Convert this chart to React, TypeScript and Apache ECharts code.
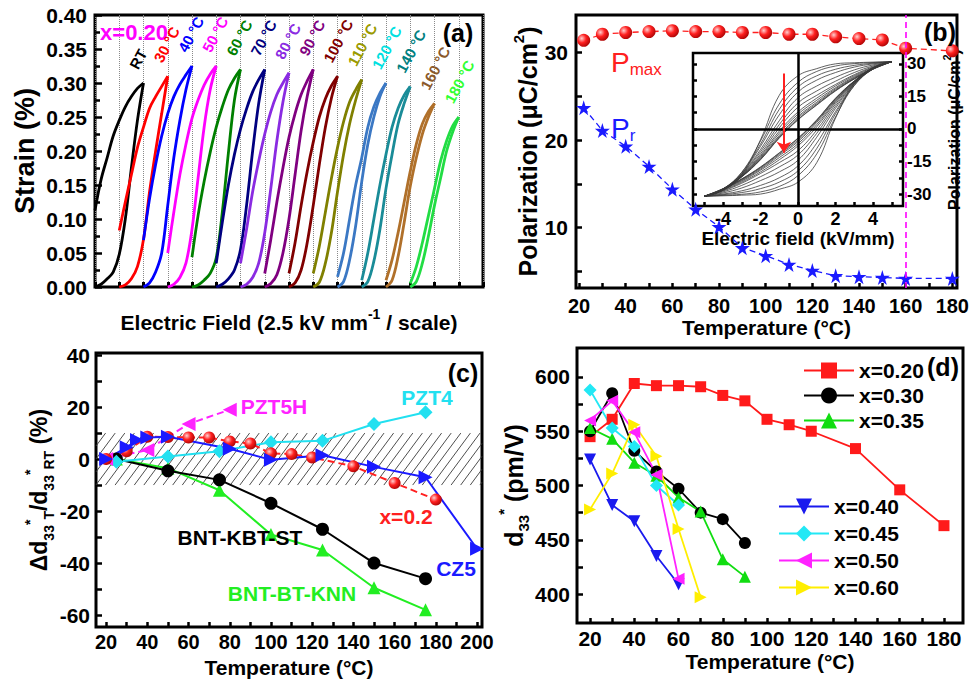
import React, { useEffect, useRef } from "react";
import * as echarts from "echarts";

const FONT = '"Liberation Sans", Arial, Helvetica, sans-serif';

/* ================= (a) strain loops ================= */
const STRAIN_FIELD_STEPS = [0, 0.25, 0.5, 0.75, 1, 1.25, 1.5, 1.75, 2];
const STRAIN_LOOP_LABELS = ["RT", "30 °C", "40 °C", "50 °C", "60 °C", "70 °C", "80 °C", "90 °C", "100 °C", "110 °C", "120 °C", "140 °C", "160 °C", "180 °C"];
// rising branch (field increasing), strain %
const STRAIN_RISE = [
  [0, 0.004, 0.012, 0.022, 0.048, 0.1, 0.175, 0.245, 0.3],
  [0, 0.003, 0.012, 0.03, 0.07, 0.14, 0.2, 0.255, 0.31],
  [0, 0.006, 0.022, 0.05, 0.12, 0.19, 0.245, 0.29, 0.325],
  [0, 0.004, 0.014, 0.035, 0.085, 0.16, 0.235, 0.29, 0.325],
  [0, 0.003, 0.01, 0.02, 0.043, 0.11, 0.197, 0.275, 0.32],
  [0, 0.004, 0.012, 0.025, 0.055, 0.12, 0.2, 0.27, 0.32],
  [0, 0.004, 0.014, 0.035, 0.08, 0.145, 0.215, 0.272, 0.315],
  [0, 0.005, 0.018, 0.05, 0.1, 0.165, 0.23, 0.28, 0.32],
  [0, 0.006, 0.025, 0.065, 0.12, 0.18, 0.235, 0.278, 0.31],
  [0, 0.007, 0.035, 0.08, 0.14, 0.195, 0.24, 0.275, 0.305],
  [0, 0.008, 0.04, 0.09, 0.155, 0.21, 0.25, 0.28, 0.3],
  [0, 0.008, 0.038, 0.085, 0.145, 0.195, 0.24, 0.27, 0.295],
  [0, 0.01, 0.045, 0.095, 0.148, 0.19, 0.225, 0.25, 0.27],
  [0, 0.008, 0.035, 0.075, 0.12, 0.16, 0.2, 0.228, 0.25],
];
// falling branch (field decreasing), listed at the same field steps
const STRAIN_FALL = [
  [0.113, 0.158, 0.19, 0.222, 0.245, 0.265, 0.28, 0.292, 0.3],
  [0.083, 0.125, 0.165, 0.205, 0.235, 0.263, 0.28, 0.295, 0.31],
  [0.069, 0.13, 0.18, 0.222, 0.255, 0.28, 0.298, 0.312, 0.325],
  [0.05, 0.11, 0.165, 0.21, 0.248, 0.275, 0.297, 0.313, 0.325],
  [0.044, 0.105, 0.155, 0.198, 0.235, 0.265, 0.29, 0.307, 0.32],
  [0.035, 0.095, 0.15, 0.195, 0.232, 0.262, 0.287, 0.305, 0.32],
  [0.035, 0.085, 0.14, 0.185, 0.225, 0.258, 0.283, 0.3, 0.315],
  [0.02, 0.07, 0.125, 0.175, 0.22, 0.255, 0.283, 0.303, 0.32],
  [0.02, 0.065, 0.12, 0.17, 0.213, 0.25, 0.277, 0.296, 0.31],
  [0.02, 0.06, 0.11, 0.16, 0.205, 0.243, 0.272, 0.29, 0.305],
  [0.015, 0.05, 0.1, 0.15, 0.19, 0.235, 0.265, 0.285, 0.3],
  [0.01, 0.05, 0.1, 0.15, 0.195, 0.235, 0.263, 0.282, 0.295],
  [0.01, 0.04, 0.08, 0.125, 0.17, 0.21, 0.24, 0.258, 0.27],
  [0.005, 0.03, 0.065, 0.105, 0.145, 0.185, 0.215, 0.237, 0.25],
];
const LOOP_COLORS = ["#000000", "#ff0000", "#0000ff", "#ff00ff", "#008000", "#000080", "#8a2be2", "#800080", "#800000", "#808000", "#3b78c4", "#1a8c98", "#b0702a", "#22dd44"];
const LOOP_LABEL_COLORS = ["#000000", "#ff0000", "#0000ff", "#ff00ff", "#008000", "#000080", "#8a2be2", "#800080", "#800000", "#9a9a00", "#00e0e0", "#008080", "#8b5a2b", "#33ff33"];

/* ================= (b) polarization ================= */
const B_TEMPS = [22, 30, 40, 50, 60, 70, 80, 90, 100, 110, 120, 130, 140, 150, 160, 180];
const P_MAX = [31.4, 32.1, 32.3, 32.4, 32.5, 32.4, 32.4, 32.3, 32.3, 32.1, 32.1, 31.8, 31.6, 31.45, 30.5, 30.2];
const P_R = [23.7, 21.1, 19.3, 17.0, 14.4, 12.1, 10.1, 7.7, 6.8, 5.8, 5.1, 4.5, 4.4, 4.3, 4.2, 4.2];
const B_X_LABELS = [20, 40, 60, 80, 100, 120, 140, 160, 180];
const B_X_TICKS = [20, 30, 40, 50, 60, 70, 80, 90, 100, 110, 120, 130, 140, 150, 160, 170, 180];
const B_Y_LABELS = [10, 20, 30];
const B_Y_TICKS = [5, 10, 15, 20, 25, 30];
const B_MARK_TEMP = 160;

/* ================= inset P-E loops ================= */
const PE_FIELD = [5, 4, 3, 2, 1, 0, -1, -2, -3, -4, -5];
// upper branch (field decreasing from +5 to -5), one per temperature
const PE_UPPER = [
  [31, 30.8, 30.5, 30, 27.8, 24.5, 15.5, -5, -21, -28, -31],
  [31, 30.6, 30.1, 29, 26.5, 21.5, 11.5, -5.5, -20, -27.8, -31],
  [31, 30.3, 29.3, 27.5, 24.5, 19.3, 9, -7, -20, -27.6, -31],
  [31, 30, 28.5, 26, 22.5, 17, 6.5, -8, -20.5, -27.6, -31],
  [31, 29.5, 27.2, 23.8, 19.8, 14.4, 3.8, -9.5, -20.8, -27.7, -31],
  [31, 29, 26, 22, 17.5, 12, 2, -10.5, -21, -27.8, -31],
  [31, 28.6, 25, 20.5, 15.5, 10, 0.5, -11.5, -21.3, -27.9, -31],
  [31, 28.3, 24.5, 19.8, 14.2, 7.8, -1, -12.3, -21.5, -28, -31],
  [31, 28, 24, 19, 13.2, 6.8, -2, -12.8, -21.7, -28, -31],
  [31, 27.8, 23.6, 18.5, 12.3, 5.8, -3, -13.3, -21.8, -28.1, -31],
  [31, 27.7, 23.3, 18, 11.7, 5.1, -3.6, -13.7, -22, -28.1, -31],
  [31, 27.6, 23.1, 17.7, 11.2, 4.4, -4, -14, -22, -28.2, -31],
  [31, 27.5, 23, 17.5, 11, 4.2, -4.2, -14.2, -22.1, -28.2, -31],
];
const INSET_X_LABELS = [-4, -2, 0, 2, 4];
const INSET_X_TICKS = [-5, -4, -3, -2, -1, 0, 1, 2, 3, 4, 5];
const INSET_Y_LABELS = [-30, -15, 0, 15, 30];
const INSET_Y_TICKS = [-30, -22.5, -15, -7.5, 0, 7.5, 15, 22.5, 30];
const ARROW_FROM = [-0.75, 25.5];
const ARROW_TO = [-0.75, -11];

/* ================= (c) relative change ================= */
const C_X02_T = [20, 30, 40, 50, 60, 70, 80, 90, 100, 110, 120, 140, 160, 180];
const C_X02 = [0, 3, 8.6, 8.5, 8.3, 8.3, 6.8, 6, 2.2, 1.9, 0.6, -2.8, -9.2, -15.6];
const C_CZ5_T = [20, 30, 35, 40, 50, 80, 100, 125, 150, 175, 200];
const C_CZ5 = [0, 4.5, 7.3, 8.3, 8.6, 4, -0.3, 1.5, -3, -7, -34.5];
const C_PZT5H_T = [20, 40, 60, 80];
const C_PZT5H = [0, 3.5, 13.5, 19];
const C_PZT4_T = [25, 50, 75, 100, 125, 150, 175];
const C_PZT4 = [-1, 1, 3, 6.5, 7, 13.5, 18];
const C_KBT_T = [25, 50, 75, 100, 125, 150, 175];
const C_KBT = [0, -4.5, -8, -17, -27, -40, -46];
const C_KNN_T = [25, 50, 75, 100, 125, 150, 175];
const C_KNN = [0, -3.5, -12, -29, -35, -49.5, -58];
const C_HATCH_BAND = [-10, 10];
const C_X_LABELS = [20, 40, 60, 80, 100, 120, 140, 160, 180, 200];
const C_X_TICKS = [20, 30, 40, 50, 60, 70, 80, 90, 100, 110, 120, 130, 140, 150, 160, 170, 180, 190, 200];
const C_Y_LABELS = [-60, -40, -20, 0, 20, 40];
const C_Y_TICKS = [-60, -50, -40, -30, -20, -10, 0, 10, 20, 30, 40];

/* ================= (d) d33* ================= */
const D_T_020 = [20, 30, 40, 50, 60, 70, 80, 90, 100, 110, 120, 140, 160, 180];
const D_020 = [545, 561, 594, 592, 592, 591, 583, 578, 561, 556, 550, 534, 496, 463];
const D_T_030 = [20, 30, 40, 50, 60, 70, 80, 90];
const D_030 = [550, 585, 532, 513, 497, 475, 469, 447];
const D_T_035 = [20, 30, 40, 50, 60, 70, 80, 90];
const D_035 = [553, 543, 521, 509, 489, 476, 432, 416];
const D_T_040 = [20, 30, 40, 50, 60];
const D_040 = [524, 482, 467, 435, 409];
const D_T_045 = [20, 30, 40, 50, 60];
const D_045 = [588, 553, 536, 500, 482];
const D_T_050 = [20, 30, 40, 50, 60];
const D_050 = [560, 578, 549, 510, 414];
const D_T_060 = [20, 30, 40, 50, 60, 70];
const D_060 = [478, 511, 556, 527, 460, 397];
const D_X_LABELS = [20, 40, 60, 80, 100, 120, 140, 160, 180];
const D_X_TICKS = [20, 30, 40, 50, 60, 70, 80, 90, 100, 110, 120, 130, 140, 150, 160, 170, 180];
const D_Y_LABELS = [400, 450, 500, 550, 600];
const D_Y_TICKS = [400, 425, 450, 475, 500, 525, 550, 575, 600];

/* ================= helpers ================= */
const pairs = (xs: number[], ys: number[]) => xs.map((x, i) => [x, ys[i]]);
const axText = (size: number) => ({ color: "#000", fontFamily: FONT, fontWeight: "bold" as const, fontSize: size });
const richTitle = (size: number, sub: number) => ({
  m: { fontSize: size, fontWeight: "bold", fontFamily: FONT, color: "#000", lineHeight: size + 10, verticalAlign: "middle" },
  sb: { fontSize: sub, fontWeight: "bold", fontFamily: FONT, color: "#000", lineHeight: sub, verticalAlign: "bottom" },
  sp: { fontSize: sub, fontWeight: "bold", fontFamily: FONT, color: "#000", lineHeight: sub, verticalAlign: "top" },
});
const tick = (vals: number[] | null, len = 5) => ({
  show: true,
  inside: true,
  length: len,
  ...(vals ? { customValues: vals } : {}),
  lineStyle: { color: "#000", width: 2.5 },
});
const NO_LINE = { show: false, onZero: false };
const STAR = "path://M50,0 L61,35 L98,35 L68,57 L79,91 L50,70 L21,91 L32,57 L2,35 L39,35 Z";
const ball = (c0: string, c1: string, c2: string) =>
  new echarts.graphic.RadialGradient(0.35, 0.35, 0.75, [
    { offset: 0, color: c0 },
    { offset: 0.45, color: c1 },
    { offset: 1, color: c2 },
  ]);

function buildOption(): any {
  const grids = [
    { left: 95, top: 15, width: 388, height: 272 },
    { left: 576, top: 15, width: 387, height: 273 },
    { left: 693, top: 53, width: 210, height: 153 },
    { left: 96, top: 353, width: 386, height: 274 },
    { left: 577, top: 348, width: 386, height: 275 },
  ].map((g, i) => ({
    ...g,
    show: true,
    borderColor: "#000",
    borderWidth: i === 2 ? 2.5 : 3,
    backgroundColor: i === 2 ? "#fff" : "transparent",
  }));

  const xAxis: any[] = [
    {
      gridIndex: 0, type: "value", min: 0, max: 16, interval: 1,
      axisLine: NO_LINE, axisLabel: { show: false },
      axisTick: { show: true, inside: true, length: 5, lineStyle: { color: "#000", width: 3 } },
      splitLine: { show: true, lineStyle: { color: "#8a8a8a", type: "dotted", width: 1 } },
      name: "{m|Electric Field (2.5 kV mm}{sp|-1}{m| / scale)}",
      nameLocation: "middle", nameGap: 20,
      nameTextStyle: { rich: richTitle(21, 14) },
    },
    {
      gridIndex: 1, type: "value", min: 18.7, max: 182,
      axisLine: NO_LINE,
      axisLabel: { ...axText(20), customValues: B_X_LABELS, margin: 8 },
      axisTick: tick(B_X_TICKS, 5), splitLine: { show: false },
      name: "Temperature (°C)", nameLocation: "middle", nameGap: 27, nameTextStyle: axText(21),
    },
    {
      gridIndex: 2, type: "value", min: -5.6, max: 5.6,
      axisLine: NO_LINE,
      axisLabel: { ...axText(18), customValues: INSET_X_LABELS, margin: 4 },
      axisTick: tick(INSET_X_TICKS, 4), splitLine: { show: false },
      name: "Electric field (kV/mm)", nameLocation: "middle", nameGap: 21, nameTextStyle: axText(19),
    },
    {
      gridIndex: 3, type: "value", min: 15.1, max: 202.4,
      axisLine: NO_LINE,
      axisLabel: { ...axText(20), customValues: C_X_LABELS, margin: 5 },
      axisTick: tick(C_X_TICKS, 5), splitLine: { show: false },
      name: "Temperature (°C)", nameLocation: "middle", nameGap: 30, nameTextStyle: axText(21),
    },
    {
      gridIndex: 4, type: "value", min: 14.1, max: 188.6,
      axisLine: NO_LINE,
      axisLabel: { ...axText(21), customValues: D_X_LABELS, margin: 5 },
      axisTick: tick(D_X_TICKS, 5), splitLine: { show: false },
      name: "Temperature (°C)", nameLocation: "middle", nameGap: 28, nameTextStyle: axText(21),
    },
  ];

  const yAxis: any[] = [
    {
      gridIndex: 0, type: "value", min: 0, max: 0.4, interval: 0.05,
      axisLine: NO_LINE,
      axisLabel: { ...axText(21), margin: 8, formatter: (v: number) => v.toFixed(2) },
      axisTick: tick(null, 7),
      minorTick: { show: true, splitNumber: 2, length: 5, lineStyle: { color: "#000", width: 2.5 } },
      splitLine: { show: false }, minorSplitLine: { show: false },
      name: "Strain (%)", nameLocation: "middle", nameGap: 57, nameTextStyle: axText(27),
    },
    {
      gridIndex: 1, type: "value", min: 3.1, max: 34.3,
      axisLine: NO_LINE,
      axisLabel: { ...axText(21), customValues: B_Y_LABELS, margin: 8 },
      axisTick: tick(B_Y_TICKS, 6), splitLine: { show: false },
      name: "{m|Polarization (μC/cm}{sp|2}{m|)}", nameLocation: "middle", nameGap: 30,
      nameTextStyle: { rich: richTitle(25, 15) },
    },
    {
      gridIndex: 2, type: "value", position: "right", min: -35.5, max: 35,
      axisLine: NO_LINE,
      axisLabel: { ...axText(17), customValues: INSET_Y_LABELS, margin: 4 },
      axisTick: tick(INSET_Y_TICKS, 4), splitLine: { show: false },
      name: "{m|Polarization (μC/cm}{sp|2}{m|)}", nameLocation: "middle", nameGap: 38, nameRotate: 90,
      nameTextStyle: { rich: richTitle(16, 11) },
    },
    {
      gridIndex: 2, type: "value", position: "left", min: -35.5, max: 35,
      axisLine: NO_LINE, axisLabel: { show: false },
      axisTick: tick(INSET_Y_TICKS, 4), splitLine: { show: false },
    },
    {
      gridIndex: 3, type: "value", min: -64.6, max: 40.8,
      axisLine: NO_LINE,
      axisLabel: { ...axText(21), customValues: C_Y_LABELS, margin: 6 },
      axisTick: tick(C_Y_TICKS, 6), splitLine: { show: false },
      name: "{m|Δd}{sb|33}{sp|*}{sb|T}{m|/d}{sb|33}{sp|*}{sb|RT}{m| (%)}", nameLocation: "middle", nameGap: 34,
      nameTextStyle: { rich: richTitle(23, 14) },
    },
    {
      gridIndex: 4, type: "value", min: 373.3, max: 626.7,
      axisLine: NO_LINE,
      axisLabel: { ...axText(21), customValues: D_Y_LABELS, margin: 7 },
      axisTick: tick(D_Y_TICKS, 6), splitLine: { show: false },
      name: "{m|d}{sb|33}{sp|*}{m| (pm/V)}", nameLocation: "middle", nameGap: 31,
      nameTextStyle: { rich: richTitle(25, 15) },
    },
  ];

  const series: any[] = [];

  // (a)
  STRAIN_RISE.forEach((rise, i) => {
    const color = LOOP_COLORS[i];
    series.push({
      type: "line", name: "a-rise-" + i, xAxisIndex: 0, yAxisIndex: 0,
      data: STRAIN_FIELD_STEPS.map((u, k) => [i + u, rise[k]]),
      showSymbol: false, smooth: 0.35, silent: true,
      lineStyle: { color, width: 2.8 },
    });
    series.push({
      type: "line", name: "a-fall-" + i, xAxisIndex: 0, yAxisIndex: 0,
      data: STRAIN_FIELD_STEPS.map((u, k) => [i + u, STRAIN_FALL[i][k]]),
      showSymbol: false, smooth: 0.35, silent: true,
      lineStyle: { color, width: 2.8 },
    });
  });

  // (b)
  series.push({
    type: "line", name: "Pmax", xAxisIndex: 1, yAxisIndex: 1,
    data: pairs(B_TEMPS, P_MAX), symbol: "circle", symbolSize: 13,
    itemStyle: { color: ball("#ffd0d0", "#ff2020", "#a00000") },
    lineStyle: { color: "#ff2020", width: 1.3, type: [6, 4] },
    markLine: {
      silent: true, symbol: ["none", "none"], label: { show: false },
      lineStyle: { color: "#ff00ff", type: [6, 4], width: 1.6 },
      data: [{ xAxis: B_MARK_TEMP }],
    },
    z: 3,
  });
  series.push({
    type: "line", name: "Pr", xAxisIndex: 1, yAxisIndex: 1,
    data: pairs(B_TEMPS, P_R), symbol: STAR, symbolSize: 15,
    itemStyle: { color: "#1a1aff" },
    lineStyle: { color: "#1a1aff", width: 1.3, type: [6, 4] },
    z: 3,
  });

  // inset
  PE_UPPER.forEach((up, i) => {
    const upper = PE_FIELD.map((e, k) => [e, up[k]]);
    const lower = PE_FIELD.map((e, k) => [-e, -up[k]]);
    series.push({
      type: "line", name: "pe-" + i, xAxisIndex: 2, yAxisIndex: 2,
      data: upper.concat(lower), showSymbol: false, smooth: 0.4, silent: true,
      lineStyle: { color: "#3a3a3a", width: 0.8 },
      z: 4,
      ...(i === 0
        ? {
            markLine: {
              silent: true, symbol: ["none", "none"], label: { show: false },
              lineStyle: { color: "#000", type: "solid", width: 2.5 },
              data: [{ xAxis: 0 }, { yAxis: 0 }],
            },
          }
        : {}),
    });
  });
  series.push({
    type: "lines", coordinateSystem: "cartesian2d", xAxisIndex: 2, yAxisIndex: 2,
    data: [{ coords: [ARROW_FROM, ARROW_TO] }],
    symbol: ["none", "arrow"], symbolSize: 11, silent: true,
    lineStyle: { color: "#ff2020", width: 2, opacity: 1 },
    z: 6,
  });

  // (c) hatch band
  series.push({
    type: "custom", name: "hatch", xAxisIndex: 3, yAxisIndex: 4, silent: true, z: 1,
    data: [[100, 0]],
    renderItem: (params: any, api: any) => {
      const cs = params.coordSys;
      const x0 = cs.x, x1 = cs.x + cs.width;
      const yTop = api.coord([100, C_HATCH_BAND[1]])[1];
      const yBot = api.coord([100, C_HATCH_BAND[0]])[1];
      const h = yBot - yTop;
      const run = h / 1.35;
      const children: any[] = [];
      for (let s = x0 - run; s < x1; s += 9.6) {
        let ax = s, ay = yBot, bx = s + run, by = yTop;
        if (ax < x0) { const t = (x0 - ax) / run; ax = x0; ay = yBot - t * h; }
        if (bx > x1) { const t = (bx - x1) / run; bx = x1; by = yTop + t * h; }
        if (bx <= ax) continue;
        children.push({ type: "line", shape: { x1: ax, y1: ay, x2: bx, y2: by }, style: { stroke: "#3a3a3a", lineWidth: 0.9 } });
      }
      return { type: "group", children };
    },
  });
  const cLine = (name: string, xs: number[], ys: number[], color: string, symbol: string, size: number, rot: number, dashed: boolean, itemColor?: any) => ({
    type: "line", name, xAxisIndex: 3, yAxisIndex: 4, data: pairs(xs, ys),
    symbol, symbolSize: size, symbolRotate: rot,
    itemStyle: { color: itemColor || color },
    lineStyle: { color, width: 2, type: dashed ? [7, 4] : "solid" },
    z: 3,
  });
  series.push(cLine("BNT-BT-KNN", C_KNN_T, C_KNN, "#22ee22", "triangle", 13, 0, false));
  series.push(cLine("BNT-KBT-ST", C_KBT_T, C_KBT, "#000000", "circle", 13, 0, false));
  series.push(cLine("PZT4", C_PZT4_T, C_PZT4, "#22e0f0", "diamond", 14, 0, false));
  series.push(cLine("PZT5H", C_PZT5H_T, C_PZT5H, "#ff22ff", "triangle", 14, 90, true));
  series.push(cLine("x=0.2", C_X02_T, C_X02, "#ff2020", "circle", 12, 0, true, ball("#ffd0d0", "#ff2020", "#a00000")));
  series.push(cLine("CZ5", C_CZ5_T, C_CZ5, "#1a1aff", "triangle", 14, -90, false));

  // (d)
  const dLine = (name: string, xs: number[], ys: number[], color: string, symbol: string, size: number, rot: number) => ({
    type: "line", name, xAxisIndex: 4, yAxisIndex: 5, data: pairs(xs, ys),
    symbol, symbolSize: size, symbolRotate: rot,
    itemStyle: { color }, lineStyle: { color, width: 1.8 }, z: 3,
  });
  series.push(dLine("x=0.20", D_T_020, D_020, "#ff1a1a", "rect", 11, 0));
  series.push(dLine("x=0.30", D_T_030, D_030, "#000000", "circle", 12, 0));
  series.push(dLine("x=0.35", D_T_035, D_035, "#11dd11", "triangle", 12, 0));
  series.push(dLine("x=0.40", D_T_040, D_040, "#1a1aee", "triangle", 12, 180));
  series.push(dLine("x=0.45", D_T_045, D_045, "#22e8f5", "diamond", 13, 0));
  series.push(dLine("x=0.50", D_T_050, D_050, "#ff22ff", "triangle", 12, 90));
  series.push(dLine("x=0.60", D_T_060, D_060, "#ffee00", "triangle", 12, -90));

  const legendText = { ...axText(21) };
  const legend = [
    {
      data: ["x=0.20", "x=0.30", "x=0.35"], orient: "vertical", left: 798, top: 355,
      itemWidth: 50, itemHeight: 20, itemGap: 4, selectedMode: false, textStyle: legendText,
    },
    {
      data: ["x=0.40", "x=0.45", "x=0.50", "x=0.60"], orient: "vertical", left: 773, top: 491,
      itemWidth: 50, itemHeight: 20, itemGap: 6, selectedMode: false, textStyle: legendText,
    },
  ];

  return { animation: false, backgroundColor: "#fff", grid: grids, xAxis, yAxis, series, legend };
}

function text(x: number, y: number, t: string, color: string, size: number, weight = "bold", align = "center", rotation = 0): any {
  return {
    type: "text", x, y, rotation, silent: true, z: 100,
    style: {
      text: t, fill: color, fontFamily: FONT, fontSize: size, fontWeight: weight,
      align, verticalAlign: "middle", textAlign: align, textVerticalAlign: "middle",
    },
  };
}

function buildGraphics(chart: any): any[] {
  const els: any[] = [];
  // panel letters
  els.push(text(458, 33, "(a)", "#000", 25));
  els.push(text(940, 32, "(b)", "#000", 25));
  els.push(text(463, 373, "(c)", "#000", 25));
  els.push(text(943, 367, "(d)", "#000", 25));
  // (a)
  els.push(text(134, 32, "x=0.20", "#ff00ff", 22));
  STRAIN_RISE.forEach((rise, i) => {
    const p = chart.convertToPixel({ gridIndex: 0 }, [i + 2, rise[rise.length - 1]]);
    els.push(text(p[0] - 10, p[1] - 15, STRAIN_LOOP_LABELS[i], LOOP_LABEL_COLORS[i], 15, "bold", "left", (62 * Math.PI) / 180));
  });
  // (b)
  els.push({
    type: "text", x: 611, y: 62, silent: true, z: 100,
    style: {
      text: "{p|P}{s|max}", align: "left", verticalAlign: "middle", textAlign: "left", textVerticalAlign: "middle",
      rich: {
        p: { fontSize: 28, fontFamily: FONT, fill: "#ff2020", color: "#ff2020", lineHeight: 32, verticalAlign: "middle" },
        s: { fontSize: 17, fontFamily: FONT, fill: "#ff2020", color: "#ff2020", lineHeight: 17, verticalAlign: "bottom" },
      },
    },
  });
  els.push({
    type: "text", x: 611, y: 128, silent: true, z: 100,
    style: {
      text: "{p|P}{s|r}", align: "left", verticalAlign: "middle", textAlign: "left", textVerticalAlign: "middle",
      rich: {
        p: { fontSize: 28, fontFamily: FONT, fill: "#1a1aff", color: "#1a1aff", lineHeight: 32, verticalAlign: "middle" },
        s: { fontSize: 17, fontFamily: FONT, fill: "#1a1aff", color: "#1a1aff", lineHeight: 17, verticalAlign: "bottom" },
      },
    },
  });
  // (c)
  els.push(text(274, 406, "PZT5H", "#ff22ff", 21));
  els.push(text(427, 397, "PZT4", "#22e0f0", 21));
  els.push(text(406, 516, "x=0.2", "#ff2020", 21));
  els.push(text(456, 568, "CZ5", "#1a1aff", 21));
  els.push(text(240, 537, "BNT-KBT-ST", "#000", 21));
  els.push(text(292, 593, "BNT-BT-KNN", "#22ee22", 21));
  return els;
}

export default function App() {
  const ref = useRef<HTMLDivElement>(null);
  useEffect(() => {
    if (!ref.current) return;
    const chart = echarts.init(ref.current, undefined, { renderer: "svg" });
    chart.setOption(buildOption());
    chart.setOption({ graphic: { elements: buildGraphics(chart) } });
    return () => chart.dispose();
  }, []);
  return <div ref={ref} style={{ position: "fixed", left: 0, top: 0, width: 972, height: 682, background: "#fff" }} />;
}
